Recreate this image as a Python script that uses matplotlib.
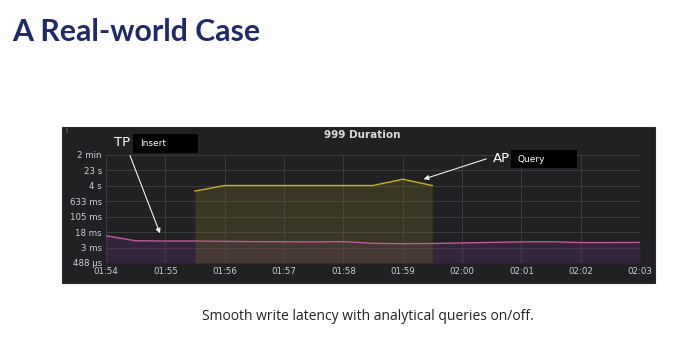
import numpy as np
import matplotlib
matplotlib.use("Agg")
import matplotlib.pyplot as plt
from matplotlib.patches import Rectangle, FancyArrowPatch

# ---------------- data ----------------
x_labels = ["01:54", "01:55", "01:56", "01:57", "01:58", "01:59", "02:00", "02:01", "02:02", "02:03"]
y_labels = ["488 µs", "3 ms", "18 ms", "105 ms", "633 ms", "4 s", "23 s", "2 min"]
y_lo, y_hi = 0.000488, 120.0

# TP "Insert" latency (seconds), minutes after 01:54
tp_t = [0.0, 0.5, 1.0, 1.5, 2.0, 2.5, 3.0, 3.5, 4.0, 4.5, 5.0, 5.5, 6.0, 6.5, 7.0, 7.5, 8.0, 8.5, 9.0]
tp_v = [0.0112, 0.0063, 0.0061, 0.0061, 0.0059, 0.0057, 0.0056, 0.0055, 0.0057, 0.0047,
        0.0045, 0.0046, 0.0049, 0.0052, 0.0055, 0.0056, 0.0051, 0.0051, 0.0052]

# AP "Query" latency (seconds)
ap_t = [1.5, 2.0, 2.5, 3.0, 3.5, 4.0, 4.5, 5.0, 5.5]
ap_v = [1.9, 3.6, 3.6, 3.6, 3.6, 3.6, 3.6, 7.4, 3.6]

# ---------------- figure ----------------
W, H = 688, 354
fig = plt.figure(figsize=(W / 100, H / 100), dpi=100)
fig.patch.set_facecolor("white")

def fx(px):
    return px / W

def fy(py):
    return 1 - py / H

# slide title and caption
fig.text(fx(12), fy(32), "A Real-world Case", fontsize=21.8, fontweight="bold",
         color="#1f2a6b", family="Lato", va="center", ha="left")
fig.text(fx(368), fy(316), "Smooth write latency with analytical queries on/off.",
         fontsize=10, color="#222222", family="Open Sans", va="center", ha="center")

# dark panel
panel_bg = "#212124"
fig.patches.append(Rectangle((fx(62), fy(283)), fx(655 - 62), (283 - 127) / H,
                             transform=fig.transFigure, facecolor=panel_bg,
                             edgecolor="#2c2c30", lw=0.8, zorder=-5))
fig.text(fx(65), fy(131), "i", fontsize=5, color="#8a8a8a", va="center", ha="left")
fig.text(fx(362), fy(135), "999 Duration", fontsize=7.5, fontweight="bold",
         color="#d8d9da", va="center", ha="center")

# plot axes
ax = fig.add_axes([fx(106), fy(263), fx(640 - 106), (263 - 155) / H])
ax.set_facecolor(panel_bg)
ax.set_yscale("log")
ax.set_ylim(y_lo, y_hi)
ax.set_xlim(0, len(x_labels) - 1)

yticks = np.geomspace(y_lo, y_hi, len(y_labels))
ax.set_yticks(yticks)
ax.set_yticklabels(y_labels)
ax.yaxis.set_minor_locator(matplotlib.ticker.NullLocator())
ax.set_xticks(np.arange(len(x_labels)))
ax.set_xticklabels(x_labels)

ax.grid(True, color="#3c3c40", lw=0.7)
ax.set_axisbelow(True)
for s in ax.spines.values():
    s.set_visible(False)
ax.tick_params(length=0, colors="#c7d0d9", labelsize=6.2, pad=3)

# fills and lines
ax.fill_between(tp_t, y_lo, tp_v, color="#5a2a6a", alpha=0.35, lw=0, zorder=2)
ax.fill_between(ap_t, y_lo, ap_v, color="#6e6420", alpha=0.32, lw=0, zorder=2)
ax.plot(tp_t, tp_v, color="#c4579a", lw=1.0, zorder=3)
ax.plot(ap_t, ap_v, color="#c9b01c", lw=1.0, zorder=3)

# annotations
fig.text(fx(122), fy(143), "TP", fontsize=9.5, color="white", va="center", ha="center", zorder=6)
fig.patches.append(Rectangle((fx(133), fy(153)), fx(198 - 133), (153 - 134) / H,
                             transform=fig.transFigure, facecolor="black", lw=0, zorder=5))
fig.text(fx(140), fy(143.5), "Insert", fontsize=6.5, color="white", va="center",
         ha="left", zorder=6)

fig.text(fx(501), fy(159), "AP", fontsize=9.5, color="white", va="center", ha="center", zorder=6)
fig.patches.append(Rectangle((fx(511), fy(168)), fx(577 - 511), (168 - 150) / H,
                             transform=fig.transFigure, facecolor="black", lw=0, zorder=5))
fig.text(fx(518), fy(159), "Query", fontsize=6.5, color="white", va="center",
         ha="left", zorder=6)

for (x0, y0), (x1, y1) in [((129, 153), (161, 236)), ((489, 158), (421, 180))]:
    fig.patches.append(FancyArrowPatch((fx(x0), fy(y0)), (fx(x1), fy(y1)),
                                       transform=fig.transFigure, arrowstyle="-|>",
                                       mutation_scale=7, color="#f0f0f0", lw=0.8,
                                       zorder=7))

fig.savefig("out.png", dpi=100, facecolor="white")
